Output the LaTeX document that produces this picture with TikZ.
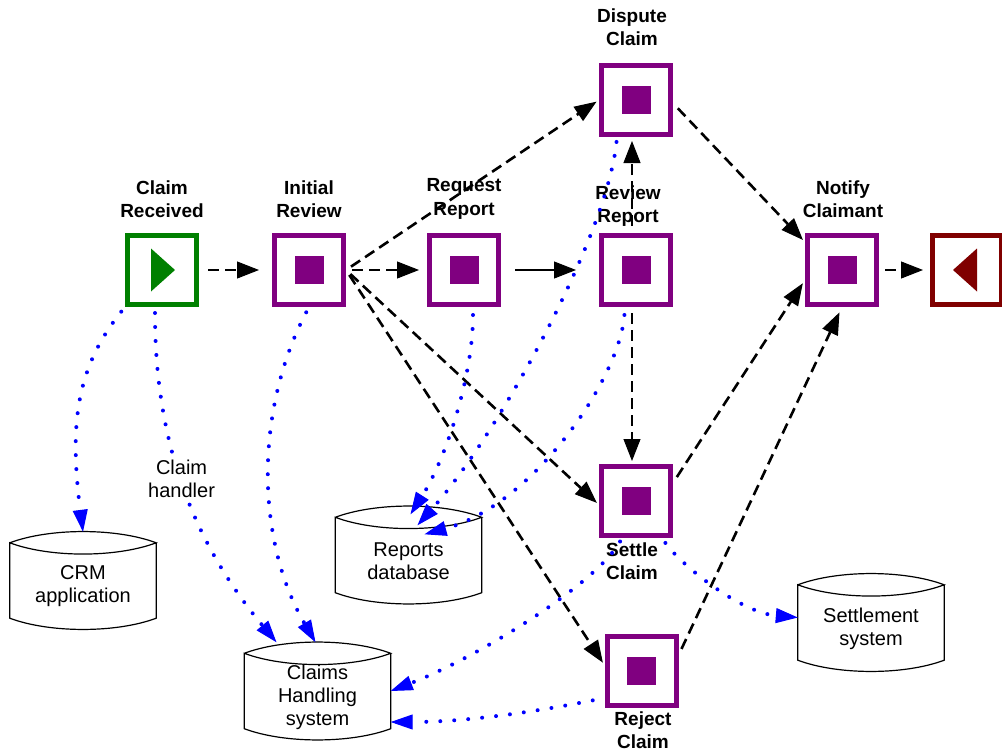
\documentclass[tikz,border=0pt]{standalone}
\usepackage{fontspec}
\setmainfont{Liberation Sans}
\usetikzlibrary{arrows.meta}

\definecolor{taskcol}{RGB}{128,0,128}
\definecolor{startcol}{RGB}{0,128,0}
\definecolor{endcol}{RGB}{128,0,0}
\definecolor{assoccol}{RGB}{0,0,255}

\tikzset{
  task/.style={draw=taskcol, line width=5pt, minimum size=69pt, inner sep=0pt,
    path picture={\fill[taskcol] ([shift={(-14.5pt,-14pt)}]path picture bounding box.center)
      rectangle ([shift={(14.5pt,14pt)}]path picture bounding box.center);}},
  startbox/.style={draw=startcol, line width=5pt, minimum size=69pt, inner sep=0pt,
    path picture={\fill[startcol] ([shift={(-11pt,21.5pt)}]path picture bounding box.center)
      -- ([shift={(13pt,0pt)}]path picture bounding box.center)
      -- ([shift={(-11pt,-21.5pt)}]path picture bounding box.center) -- cycle;}},
  endbox/.style={draw=endcol, line width=5pt, minimum size=69pt, inner sep=0pt,
    path picture={\fill[endcol] ([shift={(10pt,21.5pt)}]path picture bounding box.center)
      -- ([shift={(-14pt,0pt)}]path picture bounding box.center)
      -- ([shift={(10pt,-21.5pt)}]path picture bounding box.center) -- cycle;}},
  lbl/.style={font=\bfseries\fontsize{19}{23.5}\selectfont, align=center, inner sep=0pt},
  store/.style={minimum width=146pt, minimum height=97pt, inner sep=0pt},
  storetext/.style={align=center, inner sep=0pt, font=\fontsize{20}{23}\selectfont},
  storeline/.style={draw=black, line width=1.2pt},
  flow/.style={draw=black, line width=2.6pt, dash pattern=on 11pt off 6pt,
    -{Triangle[length=22pt,width=17pt,line width=1pt]}},
  assoc/.style={draw=assoccol, line width=4pt, line cap=round, dash pattern=on 0pt off 14pt,
    -{Triangle[length=22pt,width=15pt,line width=1pt]}},
  handler/.style={fill=white, text=black, align=center, inner sep=1pt,
    font=\fontsize{20}{23}\selectfont}
}

\newcommand{\datastore}[3]{%
  \node[store, label={[storetext, yshift=-6pt]center:#3}] (#1) at (#2) {};
  \draw[storeline] ([yshift=-11pt]#1.north west) .. controls +(40,-15) and +(-40,-15) .. ([yshift=-11pt]#1.north east)
    .. controls +(-40,15) and +(40,15) .. ([yshift=-11pt]#1.north west)
    -- ([yshift=11pt]#1.south west) .. controls +(40,15) and +(-40,15) .. ([yshift=11pt]#1.south east)
    -- ([yshift=-11pt]#1.north east);
}

\begin{document}
\begin{tikzpicture}[x=1pt,y=-1pt]
\useasboundingbox (0,0) rectangle (1002,752);

\node[startbox] (received) at (162,270) {};
\node[task] (initial) at (309,270) {};
\node[task] (request) at (464,270) {};
\node[task] (review) at (636,270) {};
\node[task] (dispute) at (636,100) {};
\node[task] (notify) at (842,270) {};
\node[endbox] (finish) at (967,270) {};
\node[task] (settle) at (636,501) {};
\node[task] (reject) at (641.5,671) {};

\node[lbl] (receivedlbl) at (162,199) {Claim\\Received};
\node[lbl] (initiallbl) at (309,199) {Initial\\Review};
\node[lbl] (requestlbl) at (464,199) {Request\\Report};
\node[lbl] (reviewlbl) at (628,206) {Review\\Report};
\node[lbl] (disputelbl) at (632,27) {Dispute\\Claim};
\node[lbl] (notifylbl) at (843,199) {Notify\\Claimant};
\node[lbl] (settlelbl) at (632,561) {Settle\\Claim};
\node[lbl] (rejectlbl) at (643,730) {Reject\\Claim};

\datastore{crm}{83,580.5}{CRM\\application}
\datastore{claims}{317.5,691}{Claims\\Handling\\system}
\datastore{reports}{408.5,555}{Reports\\database}
\datastore{settlement}{871,622.5}{Settlement\\system}

\draw[flow, shorten <=9pt, shorten >=13pt] (received.east) -- (initial.west);
\draw[flow, shorten <=6pt, shorten >=8pt] (initial.east) -- (request.west);
\draw[flow, shorten <=6pt, shorten >=3pt] (initial.east) -- (dispute.west);
\draw[flow, shorten <=6pt, shorten >=3pt] (initial.east) -- (settle.186);
\draw[flow, shorten <=6pt, shorten >=3pt] (initial.east) -- (reject.171);
\draw[flow, solid, shorten <=14pt, shorten >=23pt] (request.east) -- (review.west);
\draw[flow, shorten <=7pt, shorten >=4pt] ([xshift=-4pt]review.north) -- ([xshift=-4pt]dispute.south);
\draw[flow, shorten <=6pt, shorten >=3pt] ([xshift=-4pt]review.south) -- ([xshift=-4pt]settle.north);
\draw[flow, shorten <=7pt, shorten >=3pt] (dispute.-5) -- (notify.143);
\draw[flow, shorten <=7pt, shorten >=4pt] (settle.26) -- (notify.195);
\draw[flow, shorten <=7pt, shorten >=6pt] (reject.23) -- (notify.south);
\draw[flow, shorten <=6pt, shorten >=7pt] (notify.east) -- (finish.west);

\draw[assoc, shorten <=6pt] (received.south west) .. controls +(-48,60) and +(-14,-110) .. (crm.north);
\draw[assoc, shorten <=6pt] ([xshift=-7pt]received.south) .. controls +(0,105) and +(-100,-120) .. node[handler, pos=0.53] (handlerlbl) {Claim\\handler} ([xshift=-41pt]claims.north);
\draw[assoc, shorten <=6pt] (initial.south) .. controls +(-54,103) and +(-60,-103) .. ([xshift=-2pt]claims.north);
\draw[assoc, shorten <=8pt] ([xshift=9pt]request.south) .. controls +(0,70) and +(35,-55) .. ([shift={(2pt,-8pt)}]reports.north);
\draw[assoc, shorten <=5pt] ([xshift=-19pt]dispute.south) .. controls +(-10,100) and +(80,-90) .. ([shift={(9pt,-19pt)}]reports.north);
\draw[assoc, shorten <=8pt] ([xshift=-11pt]review.south) .. controls +(-5,70) and +(110,-30) .. ([shift={(16pt,-28pt)}]reports.north);
\draw[assoc, shorten <=6pt] ([xshift=26pt]settle.south) .. controls +(18,26) and +(-58,-5) .. ([yshift=5pt]settlement.west);
\draw[assoc, shorten <=4pt] ([xshift=-14pt]settle.south) .. controls +(-25,45) and +(90,-35) .. (claims.east);
\draw[assoc, shorten <=12pt] ([yshift=-27pt]reject.west) .. controls +(-60,12) and +(80,0) .. ([yshift=-31pt]claims.east);
\end{tikzpicture}
\end{document}
